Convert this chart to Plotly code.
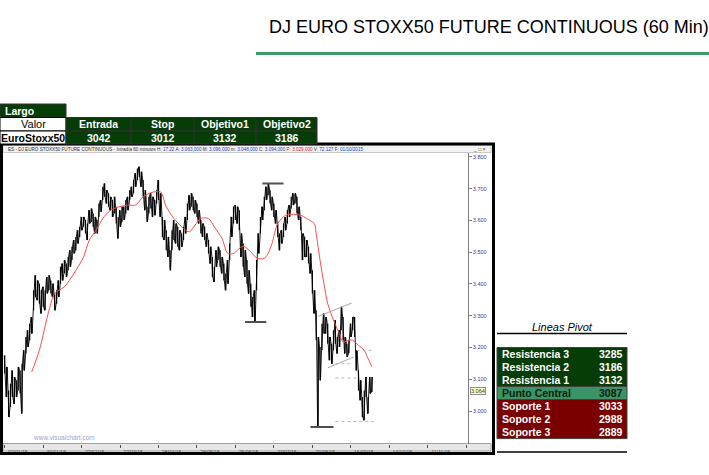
import plotly.graph_objects as go

# ---------------- data ----------------
title_text = "DJ EURO STOXX50 FUTURE CONTINUOUS (60 Min)"

trade_side = "Largo"
trade_asset = "EuroStoxx50"
trade_headers = ["Entrada", "Stop", "Objetivo1", "Objetivo2"]
trade_values = [3042, 3012, 3132, 3186]

pivot_labels = ["Resistencia 3", "Resistencia 2", "Resistencia 1", "Punto Central",
                "Soporte 1", "Soporte 2", "Soporte 3"]
pivot_values = [3285, 3186, 3132, 3087, 3033, 2988, 2889]

x_tick_days = [0, 20, 40, 60, 80, 100, 120, 140, 160, 180, 200, 220, 240]
x_tick_labels = ["02/01/15", "30/01/15", "27/02/15", "27/03/15", "28/04/15", "28/05/15",
                 "25/06/15", "23/07/15", "20/08/15", "16/09/15", "14/10/15", "11/11/15", ""]
y_tick_values = [3000, 3100, 3200, 3300, 3400, 3500, 3600, 3700, 3800]
y_tick_labels = ["3.000", "3.100", "3.200", "3.300", "3.400", "3.500", "3.600", "3.700", "3.800"]

# daily high / low (one per trading session)
high = [3175, 3139, 3065, 3086, 3128, 3107, 3097, 3139, 3128, 3149,
        3191, 3233, 3254, 3275, 3296, 3380, 3427, 3411, 3401, 3380,
        3391, 3380, 3422, 3427, 3411, 3401, 3370, 3380, 3411, 3454,
        3464, 3475, 3464, 3485, 3506, 3517, 3538, 3548, 3569, 3580,
        3611, 3611, 3601, 3590, 3632, 3637, 3622, 3611, 3601, 3653,
        3664, 3706, 3716, 3695, 3685, 3674, 3664, 3674, 3643, 3611,
        3632, 3643, 3643, 3664, 3674, 3695, 3706, 3727, 3748, 3763,
        3769, 3753, 3727, 3695, 3643, 3674, 3685, 3674, 3664, 3695,
        3727, 3685, 3611, 3601, 3569, 3548, 3506, 3569, 3601, 3590,
        3580, 3569, 3559, 3580, 3611, 3653, 3679, 3685, 3674, 3664,
        3653, 3632, 3601, 3590, 3580, 3559, 3538, 3517, 3485, 3454,
        3506, 3517, 3506, 3485, 3464, 3433, 3475, 3527, 3611, 3643,
        3648, 3643, 3632, 3559, 3527, 3506, 3475, 3443, 3401, 3359,
        3380, 3475, 3559, 3611, 3643, 3674, 3706, 3716, 3695, 3674,
        3653, 3632, 3590, 3559, 3569, 3590, 3611, 3632, 3648, 3674,
        3685, 3685, 3674, 3643, 3611, 3559, 3548, 3538, 3517, 3496,
        3443, 3380, 3317, 3233, 3202, 3275, 3307, 3296, 3275, 3233,
        3212, 3254, 3286, 3233, 3254, 3328, 3296, 3233, 3212, 3223,
        3275, 3296, 3296, 3191, 3128, 3097, 3044, 3065, 3107, 3044,
        3107, 3107]
low = [3118, 3044, 2981, 3013, 3044, 3023, 3044, 3065, 3055, 2992,
       3128, 3181, 3202, 3223, 3244, 3317, 3359, 3349, 3338, 3307,
       3328, 3317, 3370, 3380, 3370, 3359, 3317, 3338, 3359, 3401,
       3411, 3433, 3422, 3443, 3454, 3475, 3496, 3506, 3527, 3548,
       3569, 3580, 3559, 3538, 3590, 3595, 3580, 3559, 3559, 3611,
       3627, 3664, 3674, 3653, 3643, 3632, 3611, 3622, 3590, 3543,
       3580, 3595, 3601, 3622, 3632, 3664, 3674, 3685, 3706, 3727,
       3737, 3706, 3674, 3632, 3595, 3622, 3637, 3611, 3616, 3653,
       3664, 3611, 3548, 3538, 3506, 3485, 3443, 3506, 3538, 3527,
       3517, 3506, 3517, 3538, 3559, 3601, 3632, 3643, 3632, 3622,
       3611, 3590, 3559, 3548, 3538, 3517, 3496, 3464, 3422, 3406,
       3454, 3475, 3454, 3433, 3411, 3380, 3401, 3475, 3548, 3590,
       3601, 3590, 3569, 3485, 3454, 3422, 3401, 3370, 3328, 3296,
       3280, 3380, 3496, 3559, 3601, 3632, 3664, 3679, 3653, 3632,
       3611, 3590, 3548, 3506, 3527, 3548, 3569, 3590, 3611, 3637,
       3648, 3653, 3622, 3601, 3569, 3475, 3485, 3485, 3464, 3433,
       3370, 3307, 3223, 2950, 3097, 3191, 3244, 3244, 3212, 3160,
       3149, 3191, 3212, 3181, 3202, 3254, 3223, 3181, 3170, 3181,
       3233, 3254, 3233, 3128, 3065, 3034, 2981, 2971, 3044, 2992,
       3055, 3060]
last_close = 3064
last_close_label = "3.064"

# moving average (red line)
ma_days = [14, 18, 23, 26, 31, 36, 41, 44, 48, 51, 55, 58, 64, 68, 72, 76, 81, 84, 88, 92,
           96, 99, 102, 106, 109, 113, 116, 119, 121, 124, 128, 131, 135, 137, 139, 142, 146,
           149, 154, 157, 161, 162, 164, 166, 168, 171, 174, 176, 179, 181, 184, 187, 189, 191]
ma_values = [3123, 3191, 3317, 3370, 3391, 3433, 3485, 3538, 3574, 3606, 3632, 3640, 3648,
             3648, 3674, 3687, 3690, 3643, 3606, 3580, 3564, 3585, 3606, 3606, 3580, 3543,
             3496, 3496, 3506, 3519, 3501, 3482, 3480, 3496, 3527, 3590, 3616, 3619, 3616,
             3606, 3590, 3558, 3475, 3401, 3338, 3286, 3244, 3217, 3223, 3223, 3207, 3191,
             3165, 3139]

# drawn studies on the chart
level_start = [125, 134, 159]
level_end = [136, 145, 171]
level_values = [3280, 3716, 2950]
channel_start = [163, 168]
channel_end = [180.5, 181.5]
channel_start_values = [3298, 3136]
channel_end_values = [3340, 3170]
dotted_start = [183, 172, 172, 172]
dotted_end = [192, 180, 184, 192]
dotted_values = [3191, 3149, 3104, 2967]

header_line = ("ES - DJ EURO STOXX50 FUTURE CONTINUOUS - Intradía 60 minutos "
               "H: <span style='color:#2040c0'>17:22</span> "
               "A: <span style='color:#2040c0'>3.063,000</span> "
               "M: <span style='color:#2040c0'>3.096,000</span> "
               "m: <span style='color:#2040c0'>3.048,000</span> "
               "C: <span style='color:#2040c0'>3.094,000</span> "
               "<span style='color:#e02020'>P: 3.029,000</span> "
               "V: <span style='color:#2040c0'>72.127</span> "
               "F: <span style='color:#2040c0'>01/10/2015</span>")

# ---------------- layout helpers ----------------
W, H = 709, 475
FONT = "Liberation Sans, Arial, sans-serif"
DKGREEN = "#063d06"
MIDGREEN = "#3a9468"
DKRED = "#7a0000"


def X(px):
    return px / W


def Y(py):
    return 1 - py / H


shapes = []
annotations = []


def rect(x0, y0, x1, y1, fill, line="#000000", lw=1, layer="above"):
    shapes.append(dict(type="rect", xref="paper", yref="paper",
                       x0=X(x0), x1=X(x1), y0=Y(y1), y1=Y(y0),
                       fillcolor=fill, line=dict(color=line, width=lw), layer=layer))


def hline(x0, x1, y, color="#000000", lw=1, layer="above"):
    shapes.append(dict(type="line", xref="paper", yref="paper",
                       x0=X(x0), x1=X(x1), y0=Y(y), y1=Y(y),
                       line=dict(color=color, width=lw), layer=layer))


def text(x, y, s, size=10, color="#000000", anchor="center", bold=False, italic=False,
         family=FONT, **kw):
    if bold:
        s = "<b>" + s + "</b>"
    if italic:
        s = "<i>" + s + "</i>"
    annotations.append(dict(x=X(x), y=Y(y), xref="paper", yref="paper", text=s,
                            showarrow=False, xanchor=anchor, yanchor="middle",
                            font=dict(size=size, color=color, family=family), **kw))


# ---------------- figure ----------------
fig = go.Figure()

# price bars: vertical high-low segments per session
bx, by = [], []
for i, (h, l) in enumerate(zip(high, low)):
    bx += [i, i, None]
    by += [l, h, None]
fig.add_trace(go.Scatter(x=bx, y=by, mode="lines", line=dict(color="#000000", width=1.2),
                         hoverinfo="skip", showlegend=False))
# joined high/low path so consecutive sessions form a continuous jagged band
zx, zy = [], []
for i, (h, l) in enumerate(zip(high, low)):
    if i % 2 == 0:
        zx += [i - 0.25, i + 0.25]
        zy += [h, l]
    else:
        zx += [i - 0.25, i + 0.25]
        zy += [l, h]
fig.add_trace(go.Scatter(x=zx, y=zy, mode="lines", line=dict(color="#000000", width=0.9),
                         hoverinfo="skip", showlegend=False))

# moving average
fig.add_trace(go.Scatter(x=ma_days, y=ma_values, mode="lines",
                         line=dict(color="#ff4a4a", width=1, shape="spline", smoothing=0.8),
                         hoverinfo="skip", showlegend=False))

# horizontal level marks
for s, e, v in zip(level_start, level_end, level_values):
    fig.add_trace(go.Scatter(x=[s, e], y=[v, v], mode="lines",
                             line=dict(color="#505050", width=2), hoverinfo="skip",
                             showlegend=False))
for s, e, v0, v1 in zip(channel_start, channel_end, channel_start_values, channel_end_values):
    fig.add_trace(go.Scatter(x=[s, e], y=[v0, v1], mode="lines",
                             line=dict(color="#a8a8a8", width=1), hoverinfo="skip",
                             showlegend=False))
for s, e, v in zip(dotted_start, dotted_end, dotted_values):
    fig.add_trace(go.Scatter(x=[s, e], y=[v, v], mode="lines",
                             line=dict(color="#b8b8b8", width=1, dash="dot"), hoverinfo="skip",
                             showlegend=False))

# ---------------- decorations ----------------
# title and green rule
text(267, 27, title_text, size=18, anchor="left")
hline(256, 709, 53.5, color="#3a9a6a", lw=3)

# chart window frame
rect(3, 145, 491, 152.5, "#f2f2f2", line="#c8c8c8", lw=1, layer="below")
rect(3, 443.5, 491, 451, "#e6e6e6", line="#a0a0a0", lw=1, layer="below")
rect(1.5, 144, 493.5, 453.5, "rgba(0,0,0,0)", line="#000000", lw=3)
text(6, 149, header_line, size=4.6, color="#303030", anchor="left")
text(488, 149, "_ □ ×", size=5, color="#404040", anchor="right")
text(64, 437, "www.visualchart.com", size=6.5, color="#9ea4c8", anchor="center")

# last price tag
annotations.append(dict(x=X(470), y=last_close, xref="paper", yref="y",
                        text=last_close_label, showarrow=False, xanchor="left",
                        yanchor="middle", bgcolor="#ffffc8", bordercolor="#909090",
                        borderwidth=1, borderpad=0,
                        font=dict(size=5.5, color="#303030", family=FONT)))

# trade table (top-left)
cols = [0, 66, 131, 194, 256, 317]
rows = [104, 117.5, 131, 144]
rect(cols[0], rows[0], cols[1], rows[1], DKGREEN, line="#303030")
text(3, (rows[0] + rows[1]) / 2, trade_side, size=10.5, color="#ffffff", anchor="left", bold=True)
rect(cols[0], rows[1], cols[1], rows[2], "#ffffff", line="#000000")
text((cols[0] + cols[1]) / 2, (rows[1] + rows[2]) / 2, "Valor", size=11, anchor="center")
rect(cols[0], rows[2], cols[1], rows[3], "#ffffff", line="#000000")
text((cols[0] + cols[1]) / 2, (rows[2] + rows[3]) / 2, trade_asset, size=10.5,
     anchor="center", bold=True)
for j, (hd, val) in enumerate(zip(trade_headers, trade_values)):
    x0, x1 = cols[j + 1], cols[j + 2]
    rect(x0, rows[1], x1, rows[2], DKGREEN, line="#303030")
    rect(x0, rows[2], x1, rows[3], DKGREEN, line="#303030")
    text((x0 + x1) / 2, (rows[1] + rows[2]) / 2, hd, size=10.5, color="#ffffff", bold=True)
    text((x0 + x1) / 2, (rows[2] + rows[3]) / 2, str(val), size=10.5, color="#ffffff", bold=True)

# pivot table (right)
text(562, 327, "Lineas Pivot", size=11, italic=True)
hline(497, 627, 333.5, lw=1.5)
hline(497, 627, 452, lw=1.5)
prow = [347.5, 360.2, 372.9, 386.5, 399.5, 412.6, 425.6, 438.6]
rect(497, prow[0], 627, prow[3], DKGREEN, line="#404040")
rect(497, prow[3], 627, prow[4], MIDGREEN, line="#404040")
rect(497, prow[4], 627, prow[7], DKRED, line="#404040")
for k, (lab, val) in enumerate(zip(pivot_labels, pivot_values)):
    yc = (prow[k] + prow[k + 1]) / 2
    col = "#0a1e0a" if k == 3 else "#ffffff"
    text(500, yc, lab, size=10.5, color=col, anchor="left", bold=True)
    text(625, yc, str(val), size=10.5, color=col, anchor="right", bold=True)

fig.update_layout(
    width=W, height=H,
    margin=dict(l=0, r=0, t=0, b=0),
    paper_bgcolor="#ffffff", plot_bgcolor="#ffffff",
    showlegend=False,
    shapes=shapes, annotations=annotations,
    xaxis=dict(domain=[X(3), X(467.7)], range=[-0.9, 240.8], showgrid=False,
               zeroline=False, showline=False, tickmode="array", tickvals=x_tick_days,
               ticktext=x_tick_labels, ticks="outside", ticklen=3, tickcolor="#505050",
               tickfont=dict(size=5, color="#505050", family=FONT), ticklabelshift=13,
               fixedrange=True),
    yaxis=dict(domain=[Y(443.5), Y(153)], range=[2898, 3812], side="right",
               showgrid=False, zeroline=False, showline=True, linecolor="#808080",
               linewidth=1, tickmode="array", tickvals=y_tick_values, ticktext=y_tick_labels,
               ticks="outside", ticklen=3, tickcolor="#808080",
               tickfont=dict(size=5.5, color="#3040a8", family=FONT), fixedrange=True),
)

fig.write_html("out.html", config={"displayModeBar": False},
               post_script="document.body.style.margin='0px';")
